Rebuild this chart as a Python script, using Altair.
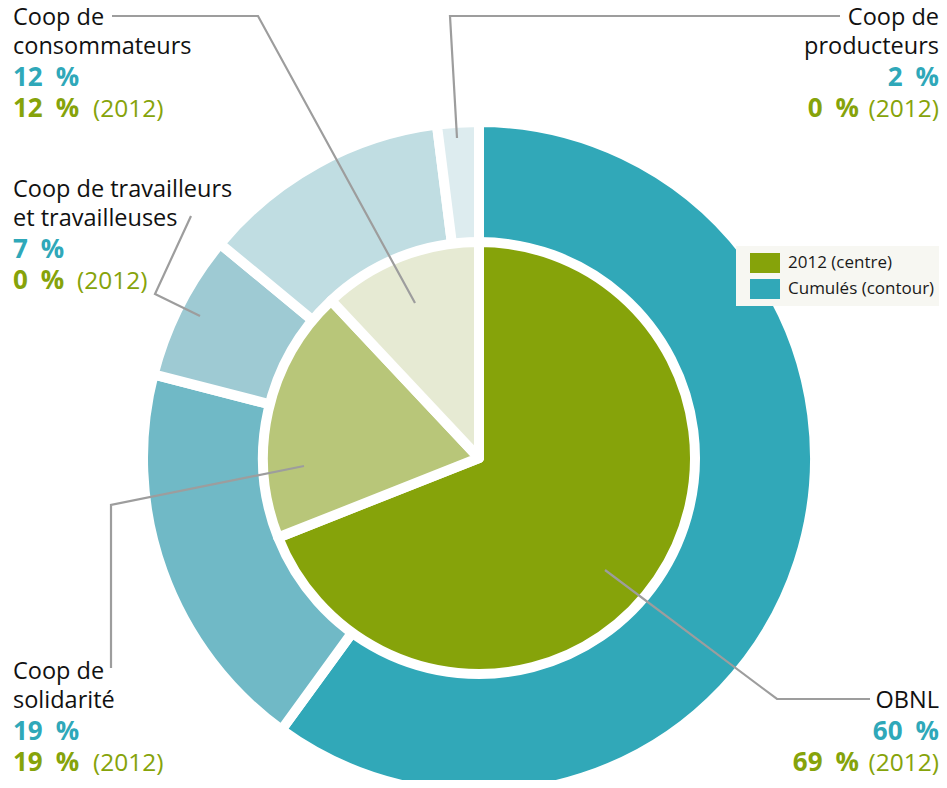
import altair as alt
import pandas as pd

# ---------------- data ----------------
categories = ["OBNL", "Coop de solidarité", "Coop de travailleurs et travailleuses",
              "Coop de consommateurs", "Coop de producteurs"]
cumul_pct = [60, 19, 7, 12, 2]          # outer ring (cumulés)
pct_2012 = [69, 19, 0, 12, 0]           # inner pie (2012)
name_lines = [["OBNL"], ["Coop de", "solidarité"], ["Coop de travailleurs", "et travailleuses"],
              ["Coop de", "consommateurs"], ["Coop de", "producteurs"]]
legend_labels = ["2012 (centre)", "Cumulés (contour)"]

# ---------------- styles / layout ----------------
outer_colors = ["#31A8B8", "#70B9C6", "#9ECAD3", "#C0DDE2", "#DDECEF"]
inner_colors = ["#86A30A", "#B8C679", "#CFD9A6", "#E6EAD3", "#EEF1E0"]
legend_colors = ["#86A30A", "#31A8B8"]
TEAL, GREEN, INK, GREY = "#2FA8B9", "#86A30A", "#111111", "#9D9D9D"
FONT = "Open Sans"
FS_NAME = 23.5
FS_BOLD = 26
FS_SUFFIX = 24.5
CX, CY = 471, 450
W, H = 931, 772

# label anchor: (x, align, first baseline y, x of "(2012)" suffix for left blocks)
label_layout = [
    (931, "right", 700, None),
    (5, "left", 671, 85),
    (5, "left", 189, 69),
    (5, "left", 17, 85),
    (931, "right", 17, None),
]
RIGHT_BOLD_END = 851
leader_paths = [
    [(862, 691), (769, 691), (597, 562)],
    [(103, 660), (103, 497), (296, 458)],
    [(183, 208), (147, 286), (192, 308)],
    [(104, 8), (250, 8), (407, 295)],
    [(832, 8), (442, 8), (449, 130)],
]

slices = pd.DataFrame({
    "cat": categories, "idx": list(range(len(categories))),
    "cumul": cumul_pct, "p2012": pct_2012,
    "oc": outer_colors, "ic": inner_colors,
})

PCT_SEP = "\u2002"
rows = []
for i, cat in enumerate(categories):
    x, align, y0, sx = label_layout[i]
    y = y0
    for j, ln in enumerate(name_lines[i]):
        if j > 0:
            y += 29
        rows.append(dict(txt=ln, x=x, y=y, align=align, kind="name"))
    y += 32
    rows.append(dict(txt=f"{cumul_pct[i]}{PCT_SEP}%", x=x, y=y, align=align, kind="cumul"))
    y += 31
    if align == "left":
        rows.append(dict(txt=f"{pct_2012[i]}{PCT_SEP}%", x=x, y=y, align=align, kind="p2012"))
        rows.append(dict(txt="(2012)", x=sx, y=y, align=align, kind="suffix"))
    else:
        rows.append(dict(txt=f"{pct_2012[i]}{PCT_SEP}%", x=RIGHT_BOLD_END, y=y, align=align, kind="p2012"))
        rows.append(dict(txt="(2012)", x=x, y=y, align=align, kind="suffix"))
labels = pd.DataFrame(rows)

lead_rows = []
for i, path in enumerate(leader_paths):
    for k, (px, py) in enumerate(path):
        lead_rows.append(dict(id=i, seq=k, x=px, y=py))
leaders = pd.DataFrame(lead_rows)

# ---------------- marks ----------------
outer = alt.Chart(slices).mark_arc(
    outerRadius=336, innerRadius=215, stroke="white", strokeWidth=10, strokeJoin="round"
).encode(
    theta=alt.Theta("cumul:Q", stack=True),
    order=alt.Order("idx:Q"),
    color=alt.Color("oc:N", scale=None),
    x=alt.value(CX), y=alt.value(CY),
)

inner = alt.Chart(slices).transform_filter("datum.p2012 > 0").mark_arc(
    outerRadius=216, stroke="white", strokeWidth=10, strokeJoin="round"
).encode(
    theta=alt.Theta("p2012:Q", stack=True),
    order=alt.Order("idx:Q"),
    color=alt.Color("ic:N", scale=None),
    x=alt.value(CX), y=alt.value(CY),
)

lines = alt.Chart(leaders).mark_line(stroke=GREY, strokeWidth=2.2).encode(
    x=alt.X("x:Q", scale=None, axis=None),
    y=alt.Y("y:Q", scale=None, axis=None),
    detail="id:N",
    order="seq:Q",
)

styles = {
    "name": dict(color=INK, fontWeight="normal", fontSize=FS_NAME),
    "cumul": dict(color=TEAL, fontWeight="bold", fontSize=FS_BOLD),
    "p2012": dict(color=GREEN, fontWeight="bold", fontSize=FS_BOLD),
    "suffix": dict(color=GREEN, fontWeight="normal", fontSize=FS_SUFFIX),
}
text_layers = []
for kind, st in styles.items():
    for align in ["left", "right"]:
        text_layers.append(
            alt.Chart(labels).transform_filter(
                f"datum.kind == '{kind}' && datum.align == '{align}'"
            ).mark_text(
                align=align, baseline="alphabetic", font=FONT, **st
            ).encode(
                x=alt.X("x:Q", scale=None, axis=None),
                y=alt.Y("y:Q", scale=None, axis=None),
                text="txt:N",
            )
        )

legend_df = pd.DataFrame({"serie": legend_labels})
legend_layer = alt.Chart(legend_df).mark_point(opacity=0, filled=True).encode(
    x=alt.value(CX), y=alt.value(CY),
    color=alt.Color(
        "serie:N",
        scale=alt.Scale(domain=legend_labels, range=legend_colors),
        legend=alt.Legend(
            title=None, orient="none", legendX=728, legendY=238,
            fillColor="#F7F7F2", padding=7, rowPadding=6,
            symbolType="M-1.5,-1H1.5V1H-1.5Z", symbolSize=400,
            symbolOpacity=1, symbolStrokeWidth=0, symbolOffset=12,
            labelOffset=13, labelFont=FONT, labelFontSize=17, labelColor="#1A1A1A",
        ),
    ),
)

chart = alt.layer(outer, inner, lines, *text_layers, legend_layer).properties(
    width=W, height=H, padding=0, autosize=alt.AutoSizeParams(type="none")
).configure_view(stroke=None)

chart.save("out.html", embed_options={"renderer": "svg", "actions": False})
